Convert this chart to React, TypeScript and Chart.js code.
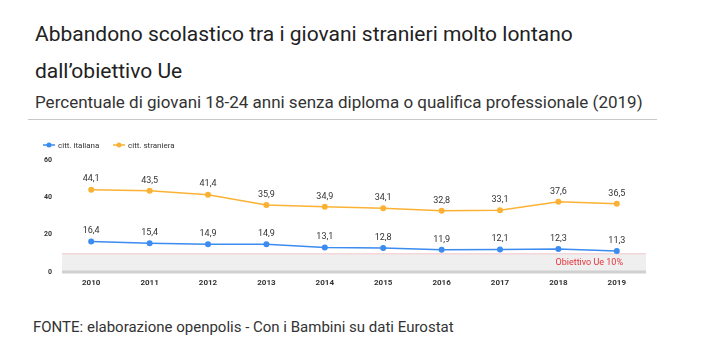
import React, { useEffect, useRef } from "react";
import { Chart, registerables } from "chart.js";
Chart.register(...registerables);

const years = ["2010", "2011", "2012", "2013", "2014", "2015", "2016", "2017", "2018", "2019"];
const italiana = [16.4, 15.4, 14.9, 14.9, 13.1, 12.8, 11.9, 12.1, 12.3, 11.3];
const straniera = [44.1, 43.5, 41.4, 35.9, 34.9, 34.1, 32.8, 33.1, 37.6, 36.5];
const seriesNames = ["citt. italiana", "citt. straniera"];
const seriesColors = ["#3b8bf0", "#fbb234"];
const target = 10;
const targetLabel = "Obiettivo Ue 10%";

const fmt = (v: number) => v.toFixed(1).replace(".", ",");

const overlay = {
  id: "overlay",
  beforeDatasetsDraw(chart: any) {
    const { ctx, chartArea, scales } = chart;
    const y0 = scales.y.getPixelForValue(0);
    const y10 = scales.y.getPixelForValue(target);
    ctx.save();
    ctx.fillStyle = "#efefef";
    ctx.fillRect(chartArea.left, y10, chartArea.right - chartArea.left, y0 - y10);
    ctx.strokeStyle = "#f6c9cc";
    ctx.lineWidth = 1;
    ctx.beginPath();
    ctx.moveTo(chartArea.left, y10 + 0.5);
    ctx.lineTo(chartArea.right, y10 + 0.5);
    ctx.stroke();
    ctx.fillStyle = "#d0d0d0";
    ctx.fillRect(chartArea.left, y0 - 1.5, chartArea.right - chartArea.left, 3);
    ctx.fillStyle = "#e5343c";
    ctx.font = "9px Roboto, Arial, sans-serif";
    ctx.textAlign = "right";
    ctx.textBaseline = "middle";
    ctx.fillText(targetLabel, chartArea.right - 23, (y10 + y0) / 2 + 0.5);
    // legend
    ctx.font = "8px Roboto, Arial, sans-serif";
    ctx.textAlign = "left";
    const lx = [15, 85];
    seriesNames.forEach((n, i) => {
      const x = lx[i];
      const y = 15;
      ctx.strokeStyle = seriesColors[i];
      ctx.lineWidth = 1.5;
      ctx.beginPath();
      ctx.moveTo(x, y);
      ctx.lineTo(x + 12, y);
      ctx.stroke();
      ctx.fillStyle = seriesColors[i];
      ctx.beginPath();
      ctx.arc(x + 6, y, 2.5, 0, Math.PI * 2);
      ctx.fill();
      ctx.fillStyle = "#333";
      ctx.fillText(n, x + 15, y + 0.5);
    });
    ctx.restore();
  },
  afterDatasetsDraw(chart: any) {
    const { ctx } = chart;
    ctx.save();
    ctx.font = "9px Roboto, Arial, sans-serif";
    ctx.fillStyle = "#333";
    ctx.textAlign = "center";
    ctx.textBaseline = "bottom";
    chart.data.datasets.forEach((ds: any, di: number) => {
      const meta = chart.getDatasetMeta(di);
      meta.data.forEach((pt: any, i: number) => {
        ctx.fillText(fmt(ds.data[i]), pt.x, pt.y - 6);
      });
    });
    ctx.restore();
  },
};

export default function App() {
  const ref = useRef<HTMLCanvasElement>(null);
  useEffect(() => {
    const chart = new Chart(ref.current!, {
      type: "line",
      data: {
        labels: years,
        datasets: [italiana, straniera].map((d, i) => ({
          label: seriesNames[i],
          data: d,
          borderColor: seriesColors[i],
          backgroundColor: seriesColors[i],
          borderWidth: 1.5,
          pointRadius: 3,
          pointBorderWidth: 0,
          tension: 0,
        })),
      },
      options: {
        animation: false,
        responsive: false,
        layout: { padding: { top: 30, right: 12, left: 0, bottom: 0 } },
        plugins: { legend: { display: false }, tooltip: { enabled: false } },
        scales: {
          x: {
            offset: true,
            grid: { display: false, drawTicks: false },
            border: { display: false },
            ticks: { color: "#333", font: { size: 8, weight: "bold", family: "Roboto, Arial, sans-serif" }, padding: 6, maxRotation: 0 },
            afterFit: (s: any) => { s.height = 18; },
          },
          y: {
            min: 0,
            max: 60,
            grid: { display: false, drawTicks: false },
            border: { display: false },
            ticks: { stepSize: 20, color: "#333", font: { size: 7, weight: "bold", family: "Roboto, Arial, sans-serif" }, padding: 10 },
            afterFit: (s: any) => { s.width = 34; },
          },
        },
      },
      plugins: [overlay],
    } as any);
    return () => chart.destroy();
  }, []);
  const font = "Roboto, Arial, sans-serif";
  return (
    <div style={{ position: "absolute", left: 0, top: 0, width: 703, height: 359, background: "#fff", fontFamily: font }}>
      <div style={{ position: "absolute", left: 35, top: 16, fontSize: 21, lineHeight: "37px", color: "#222", width: 640 }}>
        Abbandono scolastico tra i giovani stranieri molto lontano<br />dall’obiettivo Ue
      </div>
      <div style={{ position: "absolute", left: 35, top: 92, fontSize: 17, lineHeight: "20px", color: "#333", whiteSpace: "nowrap" }}>
        Percentuale di giovani 18-24 anni senza diploma o qualifica professionale (2019)
      </div>
      <div style={{ position: "absolute", left: 28, top: 119, width: 629, height: 1, background: "#c8c8c8" }} />
      <canvas ref={ref} width={630} height={160} style={{ position: "absolute", left: 28, top: 130, width: 630, height: 160 }} />
      <div style={{ position: "absolute", left: 33, top: 318, fontSize: 15, lineHeight: "18px", color: "#333", whiteSpace: "nowrap" }}>
        FONTE: elaborazione openpolis - Con i Bambini su dati Eurostat
      </div>
    </div>
  );
}
